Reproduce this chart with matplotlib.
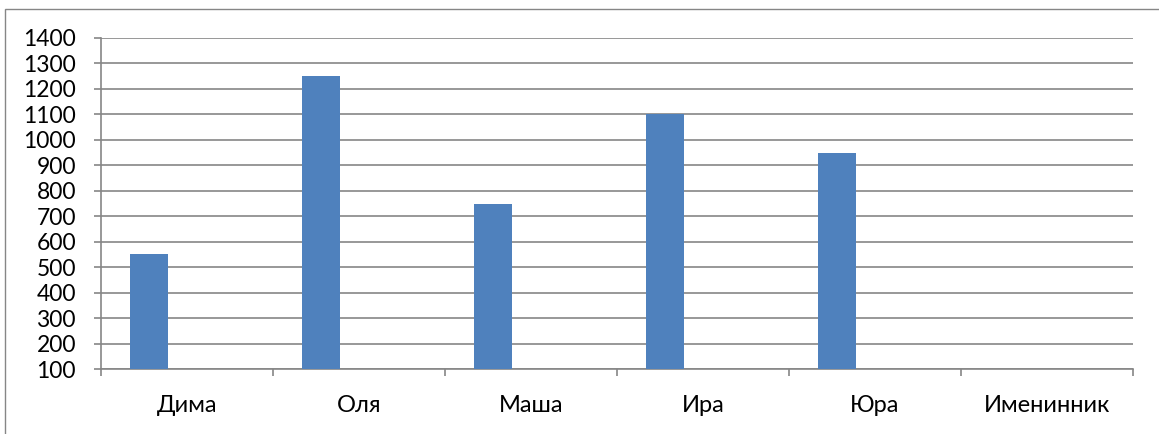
import matplotlib.pyplot as plt
import numpy as np
from matplotlib.patches import Rectangle

CATEGORIES = ["Дима", "Оля", "Маша", "Ира", "Юра", "Именинник"]
VALUES = [550, 1250, 750, 1100, 950, np.nan]
Y_TICKS = list(range(100, 1500, 100))

GRAY = "#868686"
BAR_COLOR = "#4F81BD"

plt.rcParams["font.family"] = ["Lato", "DejaVu Sans"]

fig = plt.figure(figsize=(11.59, 4.34), dpi=100)
ax = fig.add_axes([101 / 1159, 1 - 369 / 434, (1133 - 101) / 1159, (369 - 38) / 434])

# clustered layout with three series slots per category, only the first is filled
x = np.arange(len(CATEGORIES))
bar_w = 1 / 4.5
ax.bar(x - bar_w, np.nan_to_num(VALUES, nan=100) - 100, bottom=100,
       width=bar_w, color=BAR_COLOR, zorder=3)

ax.set_xlim(-0.5, len(CATEGORIES) - 0.5)
ax.set_ylim(100, 1400)
ax.set_yticks(Y_TICKS)
ax.set_yticklabels([str(v) for v in Y_TICKS])
ax.set_xticks(x)
ax.set_xticklabels(CATEGORIES)
ax.set_xticks(np.arange(len(CATEGORIES) + 1) - 0.5, minor=True)

ax.grid(axis="y", color=GRAY, linewidth=1.2, zorder=0)
ax.set_axisbelow(True)
for side in ["top", "right"]:
    ax.spines[side].set_visible(False)
for side in ["left", "bottom"]:
    ax.spines[side].set_color(GRAY)
    ax.spines[side].set_linewidth(1.2)

ax.tick_params(axis="y", length=5, width=1.2, color=GRAY, pad=13, labelsize=16.5)
ax.tick_params(axis="x", which="major", length=0, pad=18.5, labelsize=17)
ax.tick_params(axis="x", which="minor", length=5, width=1.2, color=GRAY)

fig.patches.append(Rectangle((5 / 1159, -0.5), 2, 0.5 + 1 - 9 / 434,
                             transform=fig.transFigure, fill=False,
                             edgecolor=GRAY, linewidth=1.0))

fig.savefig("out.png", dpi=100)
